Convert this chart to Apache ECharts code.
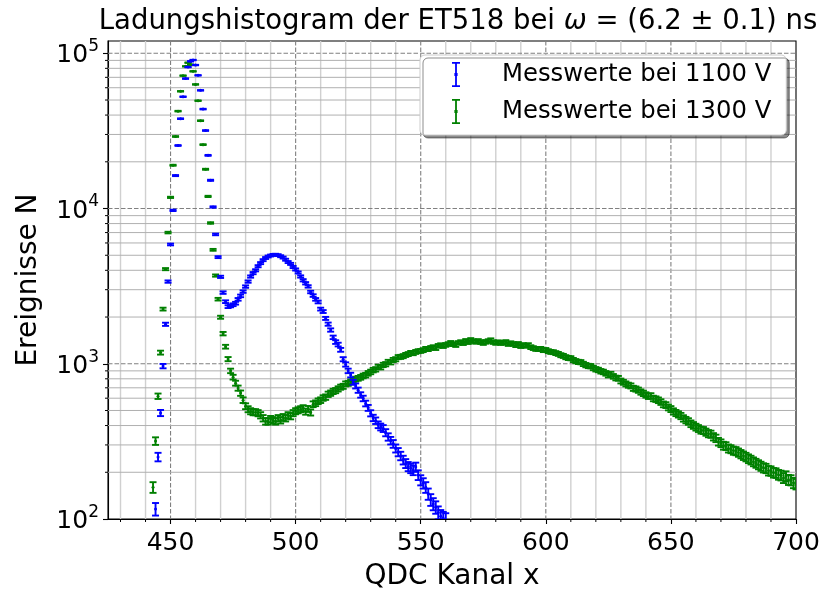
<!DOCTYPE html>
<html>
<head>
<meta charset="utf-8">
<title>Ladungshistogram ET518</title>
<script src="https://cdn.jsdelivr.net/npm/echarts@6/dist/echarts.min.js"></script>
<style>
  html, body { margin: 0; padding: 0; background: #ffffff; }
  #chart { width: 824px; height: 595px; }
</style>
</head>
<body>
<div id="chart"></div>
<script>
// QDC charge histogram of the ET518 photomultiplier at two supply voltages.
// Counts per QDC channel, first channel given separately.
const firstChannel1100 = 444;
const counts1100 = [
  116, 251, 482, 966, 1796, 3384, 5868, 9730, 16300, 25470,
  37900, 52500, 68700, 81500, 88800, 90500, 84000, 72100, 57700, 43700,
  31800, 22000, 15200, 10230, 6810, 4863, 3630, 2874, 2512, 2333,
  2360, 2400, 2455, 2600, 2737, 2917, 3142, 3384, 3646, 3836,
  4000, 4250, 4450, 4650, 4800, 4910, 4980, 5030, 5040, 5010,
  4930, 4830, 4680, 4520, 4400, 4200, 4050, 3870, 3650, 3450,
  3300, 3150, 2900, 2750, 2600, 2500, 2250, 2170, 1960, 1800,
  1650, 1480, 1380, 1330, 1230, 1070, 990, 900, 846, 760,
  720, 676, 630, 598, 555, 520, 480, 448, 430, 405,
  392, 383, 360, 338, 320, 305, 285, 270, 255, 240,
  228, 218, 212, 206, 216, 192, 178, 170, 160, 145,
  133, 125, 119, 110, 104, 101, 99
];

const firstChannel1300 = 443;
const counts1300 = [
  160, 318, 618, 1180, 2250, 4070, 7000, 11800, 19000, 29100,
  42400, 56900, 71800, 82400, 87000, 84500, 76500, 63000, 49500, 36800,
  25800, 17900, 11970, 8070, 5420, 3700, 2606, 1994, 1563, 1288,
  1072, 900, 820, 750, 697, 647, 583, 533, 510, 495,
  488, 488, 481, 466, 446, 426, 426, 440, 433, 426,
  446, 433, 453, 446, 466, 460, 481, 495, 502, 510,
  518, 492, 512, 486, 549, 557, 574, 583, 602, 610,
  636, 647, 664, 672, 689, 707, 716, 742, 748, 765,
  782, 797, 806, 818, 835, 845, 868, 886, 910, 921,
  954, 950, 983, 994, 1028, 1022, 1058, 1070, 1104, 1108,
  1120, 1140, 1155, 1175, 1170, 1192, 1206, 1210, 1224, 1248,
  1243, 1265, 1280, 1262, 1304, 1318, 1300, 1323, 1340, 1364,
  1338, 1320, 1362, 1380, 1358, 1405, 1378, 1425, 1400, 1383,
  1404, 1379, 1360, 1384, 1401, 1420, 1380, 1362, 1378, 1360,
  1364, 1382, 1340, 1358, 1342, 1318, 1343, 1300, 1322, 1304,
  1320, 1280, 1262, 1246, 1244, 1248, 1224, 1228, 1206, 1192,
  1188, 1172, 1158, 1136, 1124, 1103, 1090, 1086, 1058, 1040,
  1028, 1024, 998, 980, 968, 965, 940, 922, 912, 895,
  886, 868, 845, 858, 830, 810, 806, 775, 760, 742,
  728, 720, 695, 688, 676, 658, 645, 630, 618, 621,
  598, 592, 582, 567, 548, 542, 524, 511, 494, 482,
  472, 461, 445, 434, 425, 411, 401, 391, 383, 374,
  372, 363, 355, 352, 339, 331, 315, 308, 297, 295,
  285, 282, 276, 274, 268, 262, 256, 251, 245, 240,
  234, 229, 224, 219, 214, 212, 205, 204, 199, 198,
  193, 191, 184, 189, 179, 178, 171, 168
];

const seriesNames = ['Messwerte bei 1100 V', 'Messwerte bei 1300 V'];

// Axis ticks
const xMajorTicks = [450, 500, 550, 600, 650, 700];
const xMinorTicks = [430, 440, 460, 470, 480, 490, 510, 520, 530, 540, 560, 570, 580, 590,
                     610, 620, 630, 640, 660, 670, 680, 690];
const yMajorTicks = [100, 1000, 10000, 100000];
const yMinorTicks = [200, 300, 400, 500, 600, 700, 800, 900,
                     2000, 3000, 4000, 5000, 6000, 7000, 8000, 9000,
                     20000, 30000, 40000, 50000, 60000, 70000, 80000, 90000];

const FONT = 'DejaVu Sans';

// [channel, counts, Poisson uncertainty sqrt(N)]
function toPoints(first, counts) {
  return counts.map((n, i) => [first + i, n, Math.sqrt(n)]);
}

function renderErrorBar(params, api) {
  const x = api.value(0);
  const n = api.value(1);
  const err = api.value(2);
  const color = api.visual('color');
  const top = api.coord([x, n + err]);
  const bot = api.coord([x, n - err]);
  const mid = api.coord([x, n]);
  const cap = 3.5;
  const ls = { stroke: color, lineWidth: 1.9 };
  return {
    type: 'group',
    children: [
      { type: 'line', shape: { x1: mid[0], y1: top[1], x2: mid[0], y2: bot[1] }, style: ls },
      { type: 'line', shape: { x1: mid[0] - cap, y1: top[1], x2: mid[0] + cap, y2: top[1] }, style: ls },
      { type: 'line', shape: { x1: mid[0] - cap, y1: bot[1], x2: mid[0] + cap, y2: bot[1] }, style: ls },
      { type: 'circle', shape: { cx: mid[0], cy: mid[1], r: 1.5 }, style: { fill: color } }
    ]
  };
}

// Grid lines: 0 = major x, 1 = minor x, 2 = major y, 3 = minor y
const gridLineData = []
  .concat(xMajorTicks.filter(v => v < 700).map(v => [v, 1000, 0]))
  .concat(xMinorTicks.map(v => [v, 1000, 1]))
  .concat(yMajorTicks.filter(v => v > 100).map(v => [500, v, 2]))
  .concat(yMinorTicks.map(v => [500, v, 3]));

const majorGrid = { stroke: '#808080', lineWidth: 1.1, lineDash: [4.5, 2] };
const minorGridV = { stroke: '#d0d0d0', lineWidth: 1.4 };
const minorGridH = { stroke: '#b0b0b0', lineWidth: 1 };
const minorTickStyle = { stroke: '#000000', lineWidth: 1 };

function renderGridLine(params, api) {
  const kind = api.value(2);
  const cs = params.coordSys;
  const p = api.coord([api.value(0), api.value(1)]);
  const children = [];
  if (kind === 0 || kind === 1) {
    children.push({ type: 'line', shape: { x1: p[0], y1: cs.y, x2: p[0], y2: cs.y + cs.height },
                    style: kind === 0 ? majorGrid : minorGridV });
    if (kind === 1) {
      children.push({ type: 'line', shape: { x1: p[0], y1: cs.y + cs.height, x2: p[0], y2: cs.y + cs.height + 3 },
                      style: minorTickStyle });
    }
  } else {
    children.push({ type: 'line', shape: { x1: cs.x, y1: p[1], x2: cs.x + cs.width, y2: p[1] },
                    style: kind === 2 ? majorGrid : minorGridH });
    if (kind === 3) {
      children.push({ type: 'line', shape: { x1: cs.x - 3, y1: p[1], x2: cs.x, y2: p[1] },
                      style: minorTickStyle });
    }
  }
  return { type: 'group', children };
}

// Legend symbol: error bar with caps and centre dot
const errorBarIcon = 'path://M0 0H8V1.8H0Z M3.1 0H4.9V25H3.1Z M0 23.2H8V25H0Z M2.4 10.9H5.6V14.1H2.4Z';

const chart = echarts.init(document.getElementById('chart'), null, { renderer: 'canvas' });

chart.setOption({
  animation: false,
  backgroundColor: '#ffffff',
  title: {
    text: 'Ladungshistogram der ET518 bei {w|ω} = (6.2 ± 0.1) ns',
    left: 453,
    textAlign: 'center',
    top: 3,
    textStyle: {
      fontFamily: FONT, fontSize: 27.5, fontWeight: 'normal', color: '#000000',
      rich: { w: { fontFamily: FONT, fontSize: 27.5, fontStyle: 'italic', color: '#000000' } }
    }
  },
  grid: {
    left: 108, right: 28, top: 41, bottom: 76,
    outerBoundsMode: 'none',
    containLabel: false,
    show: true, borderColor: '#000000', borderWidth: 1.1, backgroundColor: 'transparent'
  },
  legend: {
    orient: 'vertical',
    left: 420,
    top: 55,
    data: seriesNames.map(name => ({ name, icon: errorBarIcon })),
    itemWidth: 8,
    itemHeight: 25,
    itemGap: 12,
    padding: [7, 15, 11, 32],
    backgroundColor: '#ffffff',
    borderColor: '#cccccc',
    borderWidth: 1,
    borderRadius: 5,
    shadowColor: 'rgba(0,0,0,0.45)',
    shadowOffsetX: 3,
    shadowOffsetY: 3,
    shadowBlur: 0,
    selectedMode: false,
    textStyle: { fontFamily: FONT, fontSize: 24.3, color: '#000000', padding: [0, 0, 0, 37] }
  },
  xAxis: {
    type: 'value',
    min: 425,
    max: 700,
    name: 'QDC Kanal x',
    nameLocation: 'middle',
    nameGap: 44,
    nameTextStyle: { fontFamily: FONT, fontSize: 28, color: '#000000' },
    axisLine: { show: true, lineStyle: { color: '#000000', width: 1.1 } },
    axisTick: { show: true, customValues: xMajorTicks, length: 5, lineStyle: { color: '#000000', width: 1.1 } },
    axisLabel: { customValues: xMajorTicks, fontFamily: FONT, fontSize: 25, color: '#000000', margin: 12 },
    splitLine: { show: false }
  },
  yAxis: {
    type: 'log',
    logBase: 10,
    min: 100,
    max: 120000,
    name: 'Ereignisse N',
    nameLocation: 'middle',
    nameGap: 65,
    nameRotate: 90,
    nameTextStyle: { fontFamily: FONT, fontSize: 28, color: '#000000' },
    axisLine: { show: true, lineStyle: { color: '#000000', width: 1.1 } },
    axisTick: { show: true, customValues: yMajorTicks, length: 5, lineStyle: { color: '#000000', width: 1.1 } },
    axisLabel: {
      customValues: yMajorTicks,
      margin: 9,
      formatter: v => '{b|10}{s|' + Math.round(Math.log10(v)) + '}',
      rich: {
        b: { fontFamily: FONT, fontSize: 25, color: '#000000', lineHeight: 30, verticalAlign: 'bottom' },
        s: { fontFamily: FONT, fontSize: 17, color: '#000000', lineHeight: 18, verticalAlign: 'top' }
      }
    },
    splitLine: { show: false }
  },
  series: [
    {
      name: 'grid',
      type: 'custom',
      renderItem: renderGridLine,
      data: gridLineData,
      encode: { x: 0, y: 1 },
      silent: true,
      z: 1
    },
    {
      name: seriesNames[1],
      type: 'custom',
      renderItem: renderErrorBar,
      data: toPoints(firstChannel1300, counts1300),
      encode: { x: 0, y: 1 },
      itemStyle: { color: '#008000' },
      clip: true,
      z: 3
    },
    {
      name: seriesNames[0],
      type: 'custom',
      renderItem: renderErrorBar,
      data: toPoints(firstChannel1100, counts1100),
      encode: { x: 0, y: 1 },
      itemStyle: { color: '#0000ff' },
      clip: true,
      z: 4
    }
  ]
});
</script>
</body>
</html>
